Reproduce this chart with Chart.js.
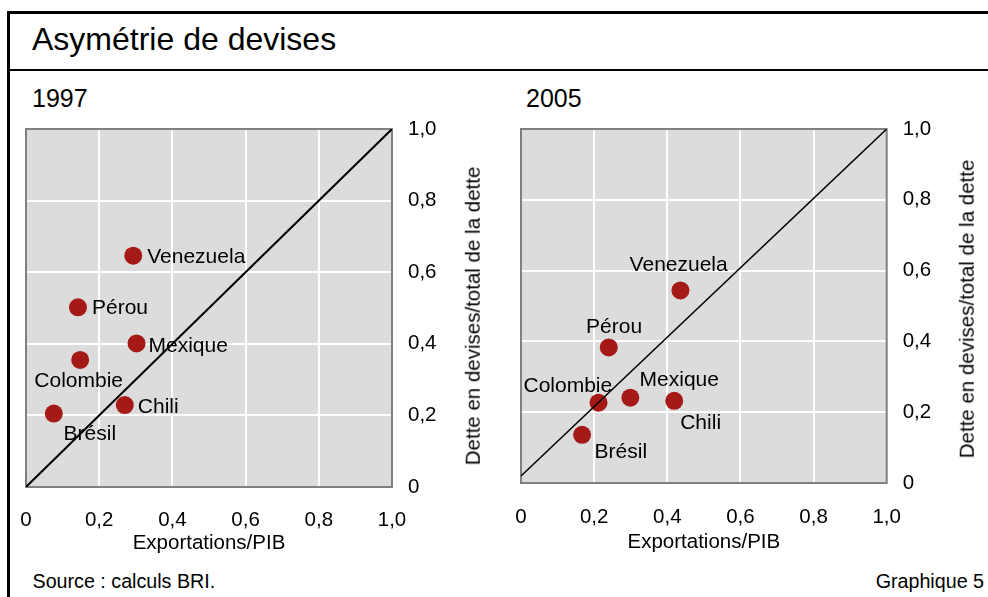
<!DOCTYPE html>
<html>
<head>
<meta charset="utf-8">
<script src="https://cdn.jsdelivr.net/npm/chart.js@4/dist/chart.umd.min.js"></script>
<style>
  html, body { margin: 0; padding: 0; background: #fff; }
  body { width: 988px; height: 597px; position: relative; overflow: hidden;
         font-family: "Liberation Sans", Arial, sans-serif; color: #000; }
  .frame { position: absolute; left: 7px; top: 11px; width: 1000px; height: 600px;
           border-left: 3px solid #000; border-top: 3px solid #000; }
  .sep { position: absolute; left: 8px; top: 69px; width: 990px; height: 2px; background: #000; }
  .txt { position: absolute; white-space: nowrap; line-height: 1; }
  .ytitle { position: absolute; white-space: nowrap; line-height: 1; font-size: 20.5px;
            transform: translate(-50%, -50%) rotate(-90deg); }
  .panel { position: absolute; top: 110px; }
</style>
</head>
<body>
<div class="frame"></div>
<div class="sep"></div>
<div class="txt" style="left:32px; top:23px; font-size:32px;">Asymétrie de devises</div>
<div class="txt" style="left:32px; top:85.5px; font-size:25px;">1997</div>
<div class="txt" style="left:526px; top:85.5px; font-size:25px;">2005</div>
<div class="txt" style="left:32.5px; top:572px; font-size:19.7px;">Source : calculs BRI.</div>
<div class="txt" style="right:4px; top:572px; font-size:19.7px;">Graphique 5</div>

<canvas id="c1997" class="panel" style="left:0px;" width="495" height="450"></canvas>
<canvas id="c2005" class="panel" style="left:495px;" width="493" height="450"></canvas>

<div class="ytitle" style="left:472.5px; top:316px;">Dette en devises/total de la dette</div>
<div class="ytitle" style="left:966.5px; top:309px;">Dette en devises/total de la dette</div>

<script>
// Pays représentés
const countries = ['Venezuela', 'Pérou', 'Mexique', 'Colombie', 'Chili', 'Brésil'];

// 1997 : exportations/PIB et dette en devises/total de la dette
const exports1997 = [0.293, 0.142, 0.302, 0.148, 0.270, 0.076];
const fxDebt1997  = [0.646, 0.502, 0.401, 0.355, 0.229, 0.205];

// 2005
const exports2005 = [0.436, 0.240, 0.299, 0.212, 0.419, 0.167];
const fxDebt2005  = [0.544, 0.383, 0.241, 0.227, 0.232, 0.136];

// Droites de référence (extrémités)
const refLine1997 = [[0, 0], [1, 1]];
const refLine2005 = [[0, 0.02], [1, 1]];

// Graduations
const tickLabels = ['0', '0,2', '0,4', '0,6', '0,8', '1,0'];

// Placement des étiquettes autour des points : [dx, dy, alignement]
// (même ordre que la liste des pays)
const labelPlacement1997 = [
  [14, 0, 'left'], [14, -1, 'left'], [12, 0.7, 'left'],
  [-1.5, 19.7, 'center'], [13, 0.5, 'left'], [36, 19, 'center']
];
const labelPlacement2005 = [
  [-1.8, -27, 'center'], [5.3, -22.3, 'center'], [48.9, -19, 'center'],
  [-30.7, -17.7, 'center'], [26.4, 20.2, 'center'], [38.8, 15.5, 'center']
];

const FONT = "'Liberation Sans', Arial, sans-serif";
const TXT = 20.5;
const LABEL_TXT = 21;
Chart.defaults.font.family = FONT;
Chart.defaults.color = '#000';

// Fond gris et cadre de la zone de tracé
const plotFrame = {
  id: 'plotFrame',
  beforeDraw(chart) {
    const a = chart.chartArea, ctx = chart.ctx;
    ctx.save();
    ctx.fillStyle = '#dcdcdc';
    ctx.fillRect(a.left, a.top, a.right - a.left, a.bottom - a.top);
    ctx.restore();
  },
  beforeDatasetsDraw(chart) {
    const a = chart.chartArea, ctx = chart.ctx;
    ctx.save();
    ctx.strokeStyle = '#808080';
    ctx.lineWidth = 2;
    ctx.strokeRect(a.left, a.top, a.right - a.left, a.bottom - a.top);
    ctx.restore();
  }
};

// Noms des pays à côté des points
const pointLabels = {
  id: 'pointLabels',
  afterDatasetsDraw(chart, args, opts) {
    const meta = chart.getDatasetMeta(1);
    const ctx = chart.ctx;
    ctx.save();
    ctx.font = LABEL_TXT + 'px ' + FONT;
    ctx.fillStyle = '#000';
    ctx.textBaseline = 'alphabetic';
    meta.data.forEach((pt, i) => {
      const [dx, dy, align] = opts.placement[i];
      ctx.textAlign = align;
      ctx.fillText(opts.names[i], pt.x + dx, pt.y + dy + 0.358 * LABEL_TXT);
    });
    ctx.restore();
  }
};

function makePanel(id, xs, ys, ref, placement, box) {
  const pts = xs.map((x, i) => ({ x: x, y: ys[i] }));
  return new Chart(document.getElementById(id), {
    type: 'scatter',
    data: {
      datasets: [
        {
          data: ref.map(p => ({ x: p[0], y: p[1] })),
          showLine: true,
          borderColor: '#000',
          borderWidth: box.refWidth,
          pointRadius: 0,
          pointHoverRadius: 0
        },
        {
          data: pts,
          pointRadius: 9,
          pointHoverRadius: 9,
          pointBackgroundColor: '#a51a16',
          pointBorderWidth: 0,
          borderWidth: 0
        }
      ]
    },
    options: {
      responsive: false,
      devicePixelRatio: 1,
      animation: false,
      events: [],
      layout: { padding: { left: 26, top: 19, right: 0, bottom: 0 } },
      plugins: {
        legend: { display: false },
        tooltip: { enabled: false },
        pointLabels: { names: countries, placement: placement }
      },
      scales: {
        x: {
          type: 'linear', min: 0, max: 1,
          grid: { color: '#ffffff', lineWidth: 2, drawTicks: false },
          border: { display: false },
          ticks: {
            stepSize: 0.2, padding: box.tickPad, maxRotation: 0, autoSkip: false,
            font: { size: TXT },
            callback: (v, i) => tickLabels[i]
          },
          title: {
            display: true, text: 'Exportations/PIB',
            font: { size: TXT }, padding: { top: 0, bottom: box.titlePad }
          },
          afterFit: s => { s.height = box.xAxisHeight; s.paddingLeft = 0; s.paddingRight = 0; }
        },
        y: {
          type: 'linear', position: 'right', min: 0, max: 1,
          grid: { color: '#ffffff', lineWidth: 2, drawTicks: false },
          border: { display: false },
          ticks: {
            stepSize: 0.2, padding: 16,
            font: { size: TXT },
            callback: (v, i) => tickLabels[i]
          },
          afterFit: s => { s.width = box.yAxisWidth; s.paddingTop = 0; s.paddingBottom = 0; }
        }
      }
    },
    plugins: [plotFrame, pointLabels]
  });
}

makePanel('c1997', exports1997, fxDebt1997, refLine1997, labelPlacement1997,
  { yAxisWidth: 103, xAxisHeight: 73, refWidth: 2, tickPad: 21, titlePad: 4 });
makePanel('c2005', exports2005, fxDebt2005, refLine2005, labelPlacement2005,
  { yAxisWidth: 101.3, xAxisHeight: 77, refWidth: 1.5, tickPad: 22, titlePad: 5 });
</script>
</body>
</html>
